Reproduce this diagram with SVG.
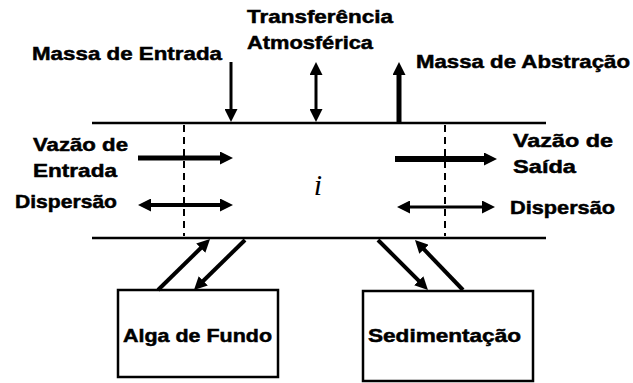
<svg xmlns="http://www.w3.org/2000/svg" width="633" height="383" viewBox="0 0 633 383">
<style>
.t{font-family:"Liberation Sans",Arial,sans-serif;font-weight:bold;font-size:19px;fill:#000;stroke:#000;stroke-width:0.5}
.ln{stroke:#000;fill:none}
.dash{stroke:#000;stroke-width:2;stroke-dasharray:7,5;fill:none}
.box{fill:#fff;stroke:#000;stroke-width:2.5}
</style>
<defs>
<marker id="ah" markerUnits="userSpaceOnUse" markerWidth="13" markerHeight="13" viewBox="0 0 13 13" refX="3" refY="6.5" orient="auto-start-reverse">
<path d="M0,0 L13,6.5 L0,13 z" fill="#000"/>
</marker>
</defs>
<rect width="633" height="383" fill="#fff"/>
<g id="channel">
<line class="ln" x1="92" y1="123" x2="546" y2="123" stroke-width="2.5"/>
<line class="ln" x1="92" y1="238" x2="546" y2="238" stroke-width="2.5"/>
<line class="dash" x1="184" y1="125" x2="184" y2="236"/>
<line class="dash" x1="445" y1="125" x2="445" y2="236"/>
<text x="318" y="195" font-family="Liberation Serif,Times New Roman,serif" font-style="italic" font-size="30" text-anchor="middle">i</text>
</g>
<g id="labels">
<text class="t" x="247" y="23" textLength="146" lengthAdjust="spacingAndGlyphs">Transferência</text>
<text class="t" x="247" y="49" textLength="126" lengthAdjust="spacingAndGlyphs">Atmosférica</text>
<text class="t" x="32" y="60" textLength="190" lengthAdjust="spacingAndGlyphs">Massa de Entrada</text>
<text class="t" x="416" y="68" textLength="214" lengthAdjust="spacingAndGlyphs">Massa de Abstração</text>
<text class="t" x="33" y="151" textLength="95" lengthAdjust="spacingAndGlyphs">Vazão de</text>
<text class="t" x="33" y="177" textLength="84" lengthAdjust="spacingAndGlyphs">Entrada</text>
<text class="t" x="15" y="208" textLength="102" lengthAdjust="spacingAndGlyphs">Dispersão</text>
<text class="t" x="513" y="147" textLength="100" lengthAdjust="spacingAndGlyphs">Vazão de</text>
<text class="t" x="513" y="173" textLength="63" lengthAdjust="spacingAndGlyphs">Saída</text>
<text class="t" x="510" y="214" textLength="105" lengthAdjust="spacingAndGlyphs">Dispersão</text>
</g>
<g id="alga">
<rect class="box" x="118" y="290" width="160" height="87"/>
<text class="t" x="123" y="342" textLength="149" lengthAdjust="spacingAndGlyphs">Alga de Fundo</text>
</g>
<g id="sedimentacao">
<rect class="box" x="363" y="291" width="170" height="90"/>
<text class="t" x="368" y="342" textLength="153" lengthAdjust="spacingAndGlyphs">Sedimentação</text>
</g>
<g id="connectors">
<line class="ln" x1="231" y1="62" x2="231" y2="112" stroke-width="3" marker-end="url(#ah)"/>
<line class="ln" x1="316" y1="72" x2="316" y2="112" stroke-width="3" marker-start="url(#ah)" marker-end="url(#ah)"/>
<line class="ln" x1="399" y1="122" x2="399" y2="72" stroke-width="5" marker-end="url(#ah)"/>
<line class="ln" x1="138" y1="158" x2="223" y2="158" stroke-width="5" marker-end="url(#ah)"/>
<line class="ln" x1="148" y1="205" x2="223" y2="205" stroke-width="4" marker-start="url(#ah)" marker-end="url(#ah)"/>
<line class="ln" x1="395" y1="159" x2="487" y2="159" stroke-width="6" marker-end="url(#ah)"/>
<line class="ln" x1="407" y1="207" x2="485" y2="207" stroke-width="3" marker-start="url(#ah)" marker-end="url(#ah)"/>
<line class="ln" x1="158" y1="290" x2="202.9" y2="246" stroke-width="4" marker-end="url(#ah)"/>
<line class="ln" x1="245" y1="240" x2="201.1" y2="283" stroke-width="4" marker-end="url(#ah)"/>
<line class="ln" x1="378" y1="240" x2="420.9" y2="282.9" stroke-width="4" marker-end="url(#ah)"/>
<line class="ln" x1="463" y1="290" x2="421.9" y2="247.2" stroke-width="4" marker-end="url(#ah)"/>
</g>
</svg>
